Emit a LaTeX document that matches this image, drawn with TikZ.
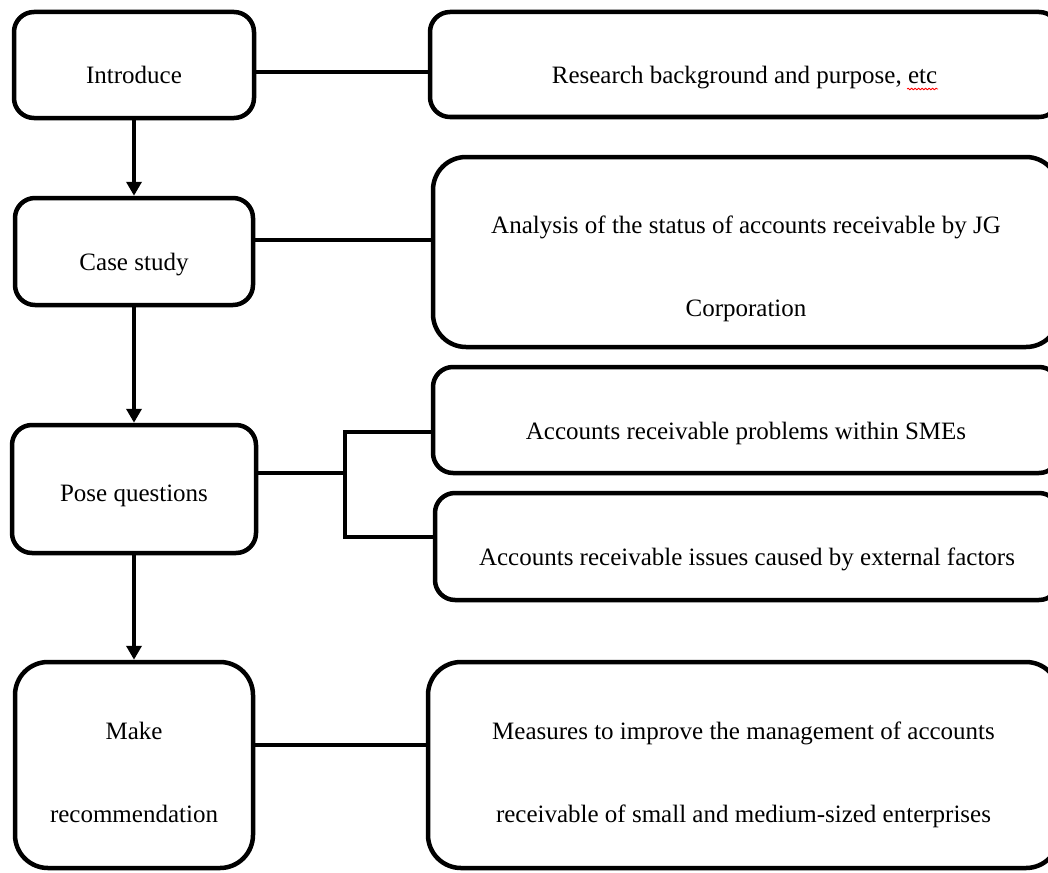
\documentclass[tikz,border=0pt]{standalone}
\usepackage{fontspec}
\setmainfont{Liberation Serif}
\usetikzlibrary{arrows.meta}
\usetikzlibrary{decorations.pathmorphing}

\begin{document}
\begin{tikzpicture}[x=1pt,y=-1pt,-,>={Triangle[length=14pt,width=15pt]}, line width=4.5pt,
	every node/.style={font=\fontsize{25}{83}\selectfont},
	stage/.style={draw=black, rounded corners=20pt, inner sep=0pt, align=center},
	oneline/.style={text height=38pt, text depth=0pt},
	tall/.style={rounded corners=33pt, text height=114pt, text depth=0pt},
	link/.style={draw=black}]

\useasboundingbox (0,0) rectangle (1048,872);

% Define the x position of the left column.
\def\leftx{134}

\node[stage, oneline, minimum width=240, minimum height=106] (intro) at (\leftx,65) {Introduce};
\node[stage, oneline, minimum width=238, minimum height=107] (casestudy) at (\leftx,251.5) {Case study};
\node[stage, text height=24pt, text depth=0pt, minimum width=244, minimum height=128] (pose) at (\leftx,489) {Pose questions};
\node[stage, tall, minimum width=238, minimum height=206] (make) at (\leftx,765) {Make\\recommendation};

% Define the boxes on the right, they run past the right border.
\node[stage, oneline, minimum width=629, minimum height=105] (backgr) at (744.5,64.5) {Research background and purpose, etc};
\node[stage, tall, text height=128pt, minimum width=626, minimum height=190] (status) at (746,252) {Analysis of the status of accounts receivable by JG\\Corporation};
\node[stage, oneline, minimum width=626, minimum height=106] (inner) at (746,420) {Accounts receivable problems within SMEs};
\node[stage, oneline, minimum width=624, minimum height=107] (outer) at (747,546.5) {Accounts receivable issues caused by external factors};
\node[stage, tall, minimum width=631, minimum height=206] (measures) at (743.5,765) {Measures to improve the management of accounts\\receivable of small and medium-sized enterprises};

\path[draw,->] (intro) -- (casestudy);
\path[draw,->] (casestudy) -- (pose);
\path[draw,->] (pose) -- (make);

\path[link] ([yshift=-7pt]intro.east) -- ([yshift=-7pt]intro.east -| backgr.west);
\path[link] ([yshift=11.5pt]casestudy.east) -- ([yshift=11.5pt]casestudy.east -| status.west);
\path[link] ([yshift=20pt]make.east) -- ([yshift=20pt]make.east -| measures.west);

% Define the fork to the two questions.
\coordinate (forktop) at (345,432);
\coordinate (forkbot) at (345,537);
\path[link] ([yshift=16pt]pose.east) -- ([yshift=16pt]pose.east -| forktop);
\path[link] (forktop -| inner.west) -- (forktop) -- (forkbot) -- (forkbot -| outer.west);

\draw[red, line width=0.8pt, decorate, decoration={snake,amplitude=0.8pt,segment length=3.5pt}] (907,89) -- (938,89);

\end{tikzpicture}
\end{document}
